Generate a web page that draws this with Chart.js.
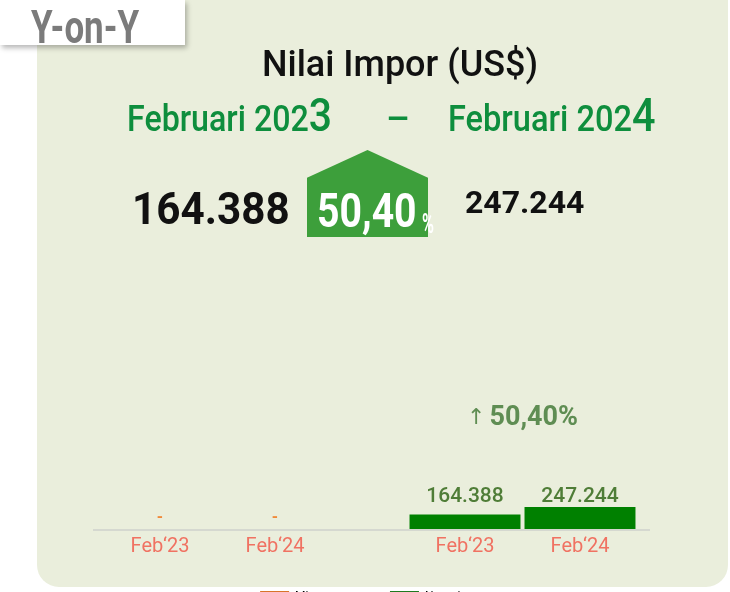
<!DOCTYPE html>
<html><head><meta charset="utf-8">
<script src="https://cdn.jsdelivr.net/npm/chart.js@4.4.1/dist/chart.umd.min.js"></script>
<style>
html,body{margin:0;padding:0;width:730px;height:592px;overflow:hidden;background:#fff;font-family:Roboto,"Noto Sans",sans-serif;}
#card{position:absolute;left:37px;top:-40px;width:691px;height:627px;background:#eaeedc;border-radius:22px;}
#tab{position:absolute;left:0;top:0;width:185px;height:45px;background:#fff;box-shadow:2px 3px 5px rgba(0,0,0,0.28);z-index:3;}
#chart{position:absolute;left:0;top:0;z-index:1;}
.t{position:absolute;white-space:nowrap;line-height:1;z-index:2;transform-origin:0 0;}
#house{position:absolute;left:307px;top:150px;width:121px;height:87px;background:#3d9f3b;clip-path:polygon(50% 0,100% 32%,100% 100%,0 100%,0 32%);z-index:2;}
</style></head>
<body>
<div id="card"></div>
<div id="tab"><span class="t" id="tabtxt" style="left:31px;top:4px;font-size:46px;font-weight:700;color:#7b7b7b;transform:scaleX(0.76);">Y-on-Y</span></div>
<canvas id="chart" width="730" height="613"></canvas>
<span class="t" id="title" style="left:400px;top:46px;font-size:36px;font-weight:500;color:#111;transform:translateX(-50%);"></span>
<span class="t" id="p1" style="left:127px;top:91px;font-size:37px;font-weight:500;color:#0e8e3d;transform:scaleX(0.87);"></span>
<span class="t" style="left:386px;top:100px;font-size:37px;font-weight:500;color:#0e8e3d;">–</span>
<span class="t" id="p2" style="left:448px;top:91px;font-size:37px;font-weight:500;color:#0e8e3d;transform:scaleX(0.88);"></span>
<div id="house"></div>
<span class="t" id="v1" style="left:132px;top:187px;font-size:44px;font-weight:700;color:#111;transform:scaleX(0.96);"></span>
<span class="t" id="pct" style="left:317px;top:186px;font-size:49px;font-weight:700;color:#fff;transform:scaleX(0.8);"></span>
<span class="t" style="left:422px;top:211px;font-size:27px;font-weight:700;color:#fff;transform:scaleX(0.6);">%</span>
<span class="t" id="v2" style="left:465px;top:186px;font-size:32px;font-weight:700;color:#111;"></span>
<script>
// ---- data ----
const chartTitle = "Nilai Impor (US$)";
const headerPeriods = ["Februari 202", "Februari 202"];
const headerYearDigits = ["3", "4"];
const categories = ["Migas", "Nonmigas"];
const periods = ["Feb\u201823", "Feb\u201824"];
const valuesFeb23 = [0, 164388];
const valuesFeb24 = [0, 247244];
const categoryColors = ["#d9742a", "#008000"];
const legendColors = ["#d9742a", "#1f7a1f"];
const yMax = 2700000;

function fmt(v){ return String(v).replace(/\B(?=(\d{3})+(?!\d))/g, "."); }
const totalA = valuesFeb23.reduce((a,b)=>a+b,0);
const totalB = valuesFeb24.reduce((a,b)=>a+b,0);
const pctText = ((totalB/totalA - 1)*100).toFixed(2).replace(".", ",");

document.getElementById("title").textContent = chartTitle;
document.getElementById("p1").innerHTML = headerPeriods[0] + '<span style="font-size:47px">' + headerYearDigits[0] + '</span>';
document.getElementById("p2").innerHTML = headerPeriods[1] + '<span style="font-size:47px">' + headerYearDigits[1] + '</span>';
document.getElementById("v1").textContent = fmt(totalA);
document.getElementById("v2").textContent = fmt(totalB);
document.getElementById("pct").textContent = pctText;

const labelPlugin = {
  id: "labelPlugin",
  beforeDatasetsDraw(chart){
    const ctx = chart.ctx, y0 = chart.scales.y.getPixelForValue(0);
    ctx.save();
    ctx.strokeStyle = "#d5d8d0"; ctx.lineWidth = 2;
    ctx.beginPath(); ctx.moveTo(93, y0 + 1); ctx.lineTo(650, y0 + 1); ctx.stroke();
    ctx.restore();
  },
  afterDatasetsDraw(chart){
    const ctx = chart.ctx, ys = chart.scales.y, xs = chart.scales.x;
    const y0 = ys.getPixelForValue(0);
    ctx.save();
    ctx.textAlign = "center";
    const tops = categories.map((c, j) => Math.min(...chart.data.datasets.map((d, i) => chart.getDatasetMeta(i).data[j].y)));
    chart.data.datasets.forEach((ds, i) => {
      const meta = chart.getDatasetMeta(i);
      meta.data.forEach((bar, j) => {
        const v = ds.data[j];
        ctx.font = "400 20px Roboto";
        ctx.fillStyle = "#f07262";
        ctx.textBaseline = "alphabetic";
        ctx.fillText(ds.label, bar.x, y0 + 23);
        if (!v) {
          ctx.font = "700 16px Roboto";
          ctx.fillStyle = "#f08a3a";
          ctx.textBaseline = "middle";
          ctx.fillText("-", bar.x, y0 - 11);
        } else {
          ctx.font = "500 21px Roboto";
          ctx.fillStyle = "#4f7d37";
          ctx.textBaseline = "alphabetic";
          ctx.fillText(fmt(v), bar.x, tops[j] - 5);
        }
      });
    });
    const cx = xs.getPixelForValue(1);
    ctx.fillStyle = "#5f8d53";
    ctx.textBaseline = "alphabetic";
    ctx.font = "700 27px Roboto";
    const txt = pctText + "%";
    const w = ctx.measureText(txt).width;
    ctx.font = "400 22px 'DejaVu Sans'";
    const aw = ctx.measureText("\u2191").width;
    const startX = cx - (w + aw + 4)/2;
    ctx.textAlign = "left";
    ctx.fillText("\u2191", startX, 424);
    ctx.font = "700 27px Roboto";
    ctx.fillText(txt, startX + aw + 4, 425);
    ctx.restore();
  }
};

new Chart(document.getElementById("chart"), {
  type: "bar",
  data: {
    labels: categories,
    datasets: [
      { label: periods[0], data: valuesFeb23, backgroundColor: categoryColors, borderWidth: 0 },
      { label: periods[1], data: valuesFeb24, backgroundColor: categoryColors, borderWidth: 0 }
    ]
  },
  options: {
    responsive: false,
    animation: false,
    devicePixelRatio: 1,
    categoryPercentage: 0.754,
    barPercentage: 0.965,
    layout: { padding: { left: 65, right: 55, top: 289, bottom: 0 } },
    scales: {
      x: { display: false },
      y: { display: false, min: 0, max: yMax }
    },
    plugins: {
      tooltip: { enabled: false },
      legend: {
        position: "bottom",
        labels: {
          font: { family: "Roboto", size: 12 },
          color: "#555",
          boxWidth: 29, boxHeight: 12, padding: 62,
          generateLabels: () => categories.map((c, i) => ({ text: c, fillStyle: legendColors[i], strokeStyle: legendColors[i], lineWidth: 0, hidden: false, datasetIndex: i }))
        }
      }
    }
  },
  plugins: [labelPlugin]
});
</script>
</body></html>
